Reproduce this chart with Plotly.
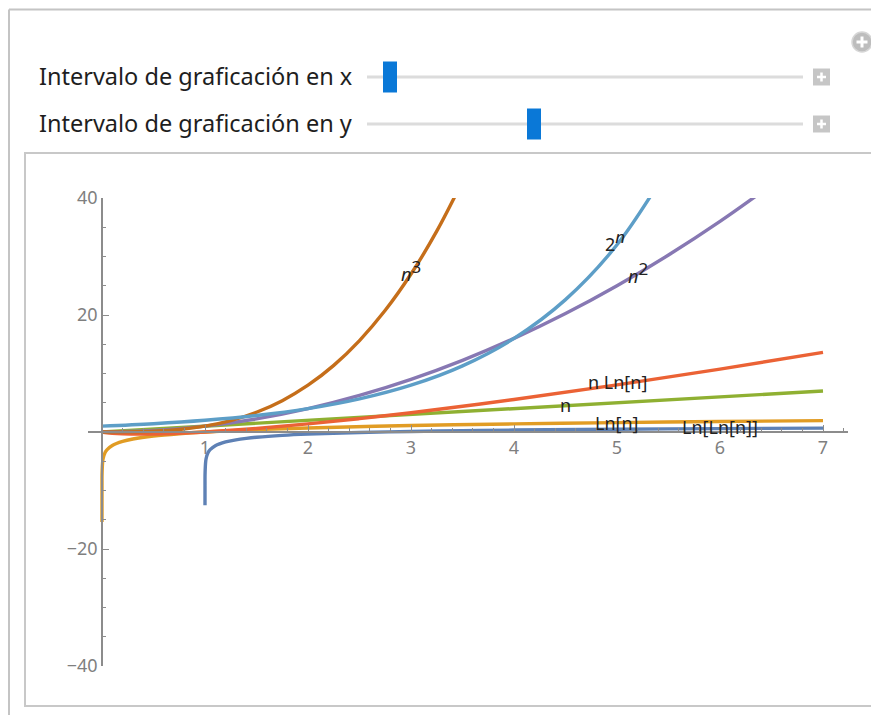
import plotly.graph_objects as go

# --- datos ---
x_lnln = [1.0000037, 1.0001, 1.001, 1.01, 1.03, 1.05, 1.1, 1.2, 1.3, 1.4, 1.5, 1.75, 2, 2.5, 3, 3.5, 4, 5, 6, 7]
y_lnln = [-12.5, -9.21, -6.91, -4.61, -3.52, -3.02, -2.35, -1.70, -1.34, -1.09, -0.90, -0.58, -0.37, -0.09, 0.09, 0.23, 0.33, 0.48, 0.58, 0.67]

x_ln = [2e-7, 1e-4, 1e-3, 0.01, 0.03, 0.05, 0.1, 0.2, 0.3, 0.5, 0.75, 1, 1.5, 2, 3, 4, 5, 6, 7]
y_ln = [-15.4, -9.21, -6.91, -4.61, -3.51, -3.00, -2.30, -1.61, -1.20, -0.69, -0.29, 0, 0.41, 0.69, 1.10, 1.39, 1.61, 1.79, 1.95]

x_n = [0, 7]
y_n = [0, 7]

x_nln = [0, 0.05, 0.1, 0.2, 0.37, 0.6, 0.8, 1, 1.5, 2, 2.5, 3, 4, 5, 6, 7]
y_nln = [0, -0.15, -0.23, -0.32, -0.37, -0.31, -0.18, 0, 0.61, 1.39, 2.29, 3.30, 5.55, 8.05, 10.75, 13.62]

x_n2 = [0, 0.5, 1, 1.5, 2, 2.5, 3, 3.5, 4, 4.5, 5, 5.5, 6, 6.5]
y_n2 = [0, 0.25, 1, 2.25, 4, 6.25, 9, 12.25, 16, 20.25, 25, 30.25, 36, 42.25]

x_n3 = [0, 0.25, 0.5, 0.75, 1, 1.25, 1.5, 1.75, 2, 2.25, 2.5, 2.75, 3, 3.25, 3.5]
y_n3 = [0, 0.016, 0.125, 0.42, 1, 1.95, 3.375, 5.36, 8, 11.39, 15.63, 20.80, 27, 34.33, 42.88]

x_2n = [0, 0.5, 1, 1.5, 2, 2.5, 3, 3.5, 4, 4.5, 5, 5.5]
y_2n = [1, 1.41, 2, 2.83, 4, 5.66, 8, 11.31, 16, 22.63, 32, 45.25]

x_ticks = [1, 2, 3, 4, 5, 6, 7]
y_ticks = [-40, -20, 20, 40]
y_ticktext = ["\u221240", "\u221220", "20", "40"]

series = [
    ("Ln[Ln[n]]", x_lnln, y_lnln, "#5E81B5"),
    ("Ln[n]", x_ln, y_ln, "#E19C24"),
    ("n", x_n, y_n, "#8FB032"),
    ("n Ln[n]", x_nln, y_nln, "#EB6235"),
    ("n^2", x_n2, y_n2, "#8778B3"),
    ("n^3", x_n3, y_n3, "#C56E1A"),
    ("2^n", x_2n, y_2n, "#5D9EC7"),
]

SUP = "<sup><span style='font-size:17px'>{}</span></sup>"

# etiquetas sobre las curvas (texto, x, y)
etiquetas = [
    ("<i>n</i>" + SUP.format("3"), 3.0, 27.6),
    ("2" + SUP.format("<i>n</i>"), 4.98, 32.8),
    ("<i>n</i>" + SUP.format("2"), 5.2, 27.3),
    ("n Ln[n]", 5.0, 8.5),
    ("n", 4.5, 4.6),
    ("Ln[n]", 5.0, 1.5),
    ("Ln[Ln[n]]", 6.0, 0.9),
]

# la pagina tiene 8 px de margen en el body: todo se mide en px de pagina y se resta OFF
OFF = 8
W, H = 879 - OFF, 715 - OFF
L, R, T, B = 88 - OFF, 39 - OFF, 198 - OFF, 49
PW, PH = W - L - R, H - T - B
FONT = "Noto Sans"


def px(xp, yp):
    """pixel de la pagina -> coordenadas paper"""
    return (xp - OFF - L) / PW, (T + PH - (yp - OFF)) / PH


fig = go.Figure()
for nombre, xs, ys, col in series:
    fig.add_trace(go.Scatter(
        x=xs, y=ys, mode="lines", name=nombre,
        line=dict(color=col, width=3.4, shape="spline", smoothing=1),
        hoverinfo="skip",
    ))

for txt, xv, yv in etiquetas:
    fig.add_annotation(x=xv, y=yv, xref="x", yref="y", text=txt, showarrow=False,
                       font=dict(family=FONT, size=18, color="#222222"))

shapes = []


def rect(x0, y0, x1, y1, **kw):
    a, b = px(x0, y1)
    c, d = px(x1, y0)
    shapes.append(dict(type="rect", xref="paper", yref="paper", x0=a, y0=b, x1=c, y1=d, **kw))


def linea(x0, y0, x1, y1, color, width):
    a, b = px(x0, y0)
    c, d = px(x1, y1)
    shapes.append(dict(type="line", xref="paper", yref="paper", x0=a, y0=b, x1=c, y1=d,
                       line=dict(color=color, width=width)))


# marco exterior y panel del grafico
linea(9, 9.5, 9, 715, "#c4c4c4", 2)
linea(9, 9.5, 879, 9.5, "#c4c4c4", 2)
rect(25, 153, 873, 706, line=dict(color="#c8c8c8", width=2), fillcolor="rgba(0,0,0,0)")

# controles tipo Manipulate
for yc, hx in [(77, 390), (124, 534)]:
    linea(367, yc, 803, yc, "#dcdcdc", 3)
    rect(hx - 7, yc - 15.5, hx + 7, yc + 15.5, line=dict(width=0), fillcolor="#0A78D7")
    rect(813, yc - 8.5, 830, yc + 8.5, line=dict(width=0), fillcolor="#c6c6c6")
    linea(817, yc, 826, yc, "white", 2.5)
    linea(821.5, yc - 4.5, 821.5, yc + 4.5, "white", 2.5)

cx0, cy0 = px(852, 32)
cx1, cy1 = px(872, 52)
shapes.append(dict(type="circle", xref="paper", yref="paper", x0=cx0, y0=cy1, x1=cx1, y1=cy0,
                   line=dict(color="#d6d6d6", width=1.5), fillcolor="#bdbdbd"))
linea(856.5, 42, 867.5, 42, "white", 3)
linea(862, 36.5, 862, 47.5, "white", 3)

for txt, yc in [("Intervalo de graficación en x", 76), ("Intervalo de graficación en y", 123)]:
    ax, ay = px(37, yc)
    fig.add_annotation(x=ax, y=ay, xref="paper", yref="paper", text=txt, showarrow=False,
                       xanchor="left", yanchor="middle",
                       font=dict(family=FONT, size=23.5, color="#1e1e1e"))

x0, x1 = (88 - 102) / 103, (88 + PW - 102) / 103

fig.update_layout(
    width=W, height=H,
    margin=dict(l=L, r=R, t=T, b=B),
    paper_bgcolor="white", plot_bgcolor="white",
    showlegend=False,
    hovermode=False,
    shapes=shapes,
    font=dict(family=FONT),
)
fig.update_xaxes(
    range=[x0, x1], anchor="free", position=0.5,
    showline=True, linecolor="#8c8c8c", linewidth=1.5,
    showgrid=False, zeroline=False,
    tickmode="array", tickvals=x_ticks,
    ticks="inside", ticklen=6, tickwidth=1.2, tickcolor="#8c8c8c",
    minor=dict(dtick=0.2, tick0=0, ticks="inside", ticklen=3.5, tickcolor="#8c8c8c", showgrid=False),
    tickfont=dict(family=FONT, size=18, color="#7f7f7f"),
)
fig.update_yaxes(
    range=[-40, 40], anchor="free", position=(102 - 88) / PW,
    showline=True, linecolor="#8c8c8c", linewidth=1.5,
    showgrid=False, zeroline=False,
    tickmode="array", tickvals=y_ticks, ticktext=y_ticktext,
    ticks="inside", ticklen=6, tickwidth=1.2, tickcolor="#8c8c8c",
    minor=dict(dtick=5, tick0=0, ticks="inside", ticklen=3.5, tickcolor="#8c8c8c", showgrid=False),
    tickfont=dict(family=FONT, size=18, color="#7f7f7f"),
)

fig.write_html("out.html", config={"displayModeBar": False})
